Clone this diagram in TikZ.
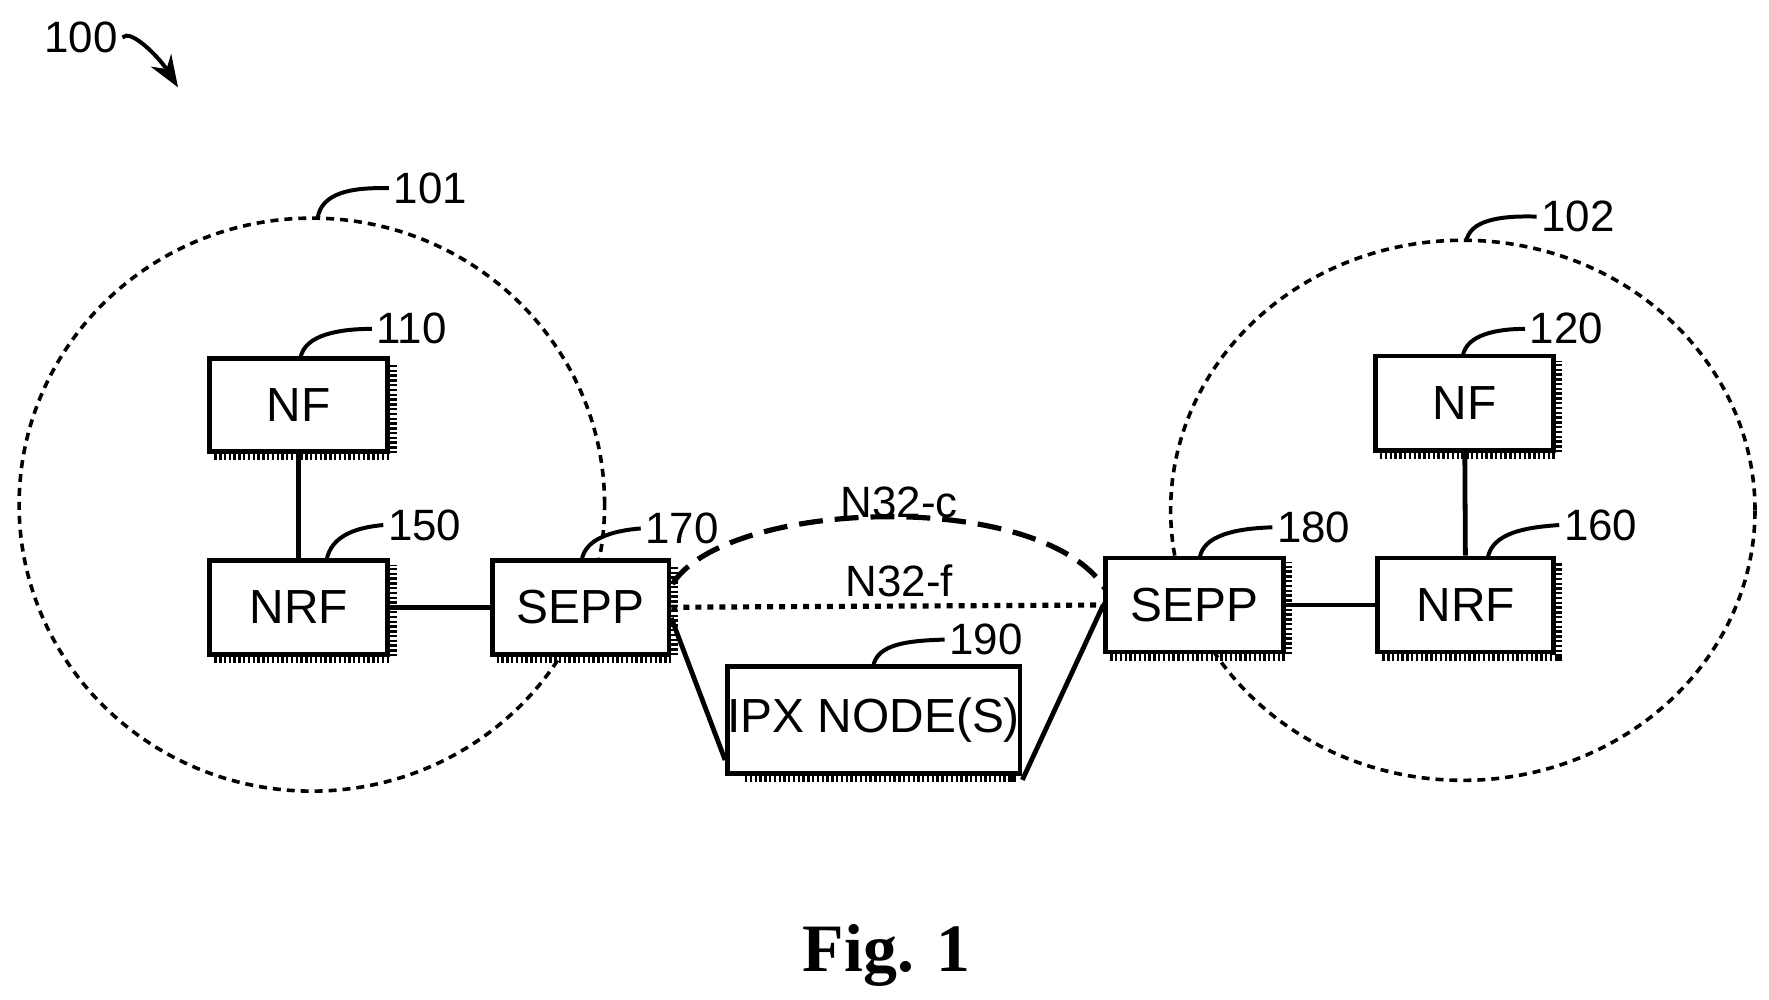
\documentclass[tikz,border=0pt]{standalone}
\usepackage{fontspec}
\setmainfont{Liberation Sans}
\newfontfamily\figfont{Liberation Serif}
\usetikzlibrary{arrows.meta,shapes.geometric}
\begin{document}
\begin{tikzpicture}[x=0.01cm,y=-0.01cm,
  box/.style={draw,line width=1.2pt,fill=white,inner sep=0pt,font=\fontsize{12}{14}\selectfont},
  lbl/.style={font=\fontsize{11}{13}\selectfont,anchor=west,inner sep=1pt},
  lead/.style={line width=1pt},
  region/.style={draw,line width=0.9pt,dash pattern=on 2pt off 1.5pt}]
\useasboundingbox (0,0) rectangle (1560,881);
\newcommand{\mybox}[6]{% name, x1,y1,x2,y2,text
  \draw[line width=3pt,dash pattern=on 0.6pt off 0.6pt] (#2+4,#5+2.5) -- (#4+2.5,#5+2.5) -- (#4+2.5,#3+4);
  \node[box,minimum width={(#4-#2)*0.01cm},minimum height={(#5-#3)*0.01cm}] (#1) at ({(#2+#4)/2},{(#3+#5)/2}) {#6};}
% regions
\node[region,ellipse,minimum width=5.16cm,minimum height=5.05cm,inner sep=0] (r101) at (275,445) {};
\node[region,ellipse,minimum width=5.15cm,minimum height=4.76cm,inner sep=0] (r102) at (1290,450) {};
% boxes
\mybox{nf1}{185}{316}{342}{398}{NF}
\mybox{nrf1}{185}{494}{342}{577}{NRF}
\mybox{sepp1}{434}{494}{590}{577}{SEPP}
\mybox{ipx}{653}{588}{888}{682}{IPX NODE(S)}
\mybox{sepp2}{975}{492}{1132}{575}{SEPP}
\mybox{nrf2}{1215}{492}{1370}{575}{NRF}
\mybox{nf2}{1213}{314}{1370}{397}{NF}
% connectors
\draw[line width=1.2pt] (nf1) -- (nrf1);
\draw[line width=1.2pt] (nf2) -- (nrf2);
\draw[line width=1.2pt] (nrf1) -- (sepp1);
\draw[line width=1.2pt] (sepp2) -- (nrf2);
\coordinate (s1c) at (593,515); \coordinate (s2c) at (975,520);
\draw[line width=1.3pt,dash pattern=on 6pt off 3pt] (s1c) .. controls (640,440) and (920,430) .. (s2c);
\draw[line width=1.3pt,dash pattern=on 1.5pt off 1.5pt] (sepp1.east) -- (sepp2.west);
\coordinate (s1l) at (592,545);
\draw[line width=1.2pt] (s1l) -- ([yshift=-10]ipx.west);
\draw[line width=1.2pt] ([yshift=-15]ipx.east) -- (sepp2.west);
\node[font=\fontsize{11}{13}\selectfont] (n32c) at (793,443) {N32-c};
\node[font=\fontsize{11}{13}\selectfont] (n32f) at (793,512) {N32-f};
% reference labels
\node[lbl] (l101) at (343,166) {101};
\draw[lead] (280,193) .. controls (283,170) and (310,165) .. (l101.west);
\node[lbl] (l102) at (1355,191) {102};
\draw[lead] (1293,213) .. controls (1296,195) and (1320,190) .. (l102.west);
\node[lbl] (l110) at (328,290) {110};
\draw[lead] (265,316) .. controls (268,295) and (300,290) .. (l110.west);
\node[lbl] (l120) at (1345,290) {120};
\draw[lead] (1290,314) .. controls (1293,295) and (1320,290) .. (l120.west);
\node[lbl] (l150) at (338,463) {150};
\draw[lead] (288,494) .. controls (292,472) and (315,465) .. (l150.west);
\node[lbl] (l160) at (1375,463) {160};
\draw[lead] (1312,492) .. controls (1316,470) and (1345,465) .. (l160.west);
\node[lbl] (l170) at (565,466) {170};
\draw[lead] (513,494) .. controls (516,475) and (540,468) .. (l170.west);
\node[lbl] (l180) at (1122,465) {180};
\draw[lead] (1058,492) .. controls (1061,472) and (1090,466) .. (l180.west);
\node[lbl] (l190) at (833,564) {190};
\draw[lead] (770,588) .. controls (773,568) and (800,565) .. (l190.west);
\node[lbl] (l100) at (35,33) {100};
\draw[lead,-{Stealth[length=8pt,width=6pt]}] (l100.east) .. controls (115,25) and (140,50) .. (157,77);
\node[font=\figfont\bfseries\fontsize{17}{20}\selectfont] (fig) at (782,843) {Fig. 1};
\end{tikzpicture}
\end{document}
